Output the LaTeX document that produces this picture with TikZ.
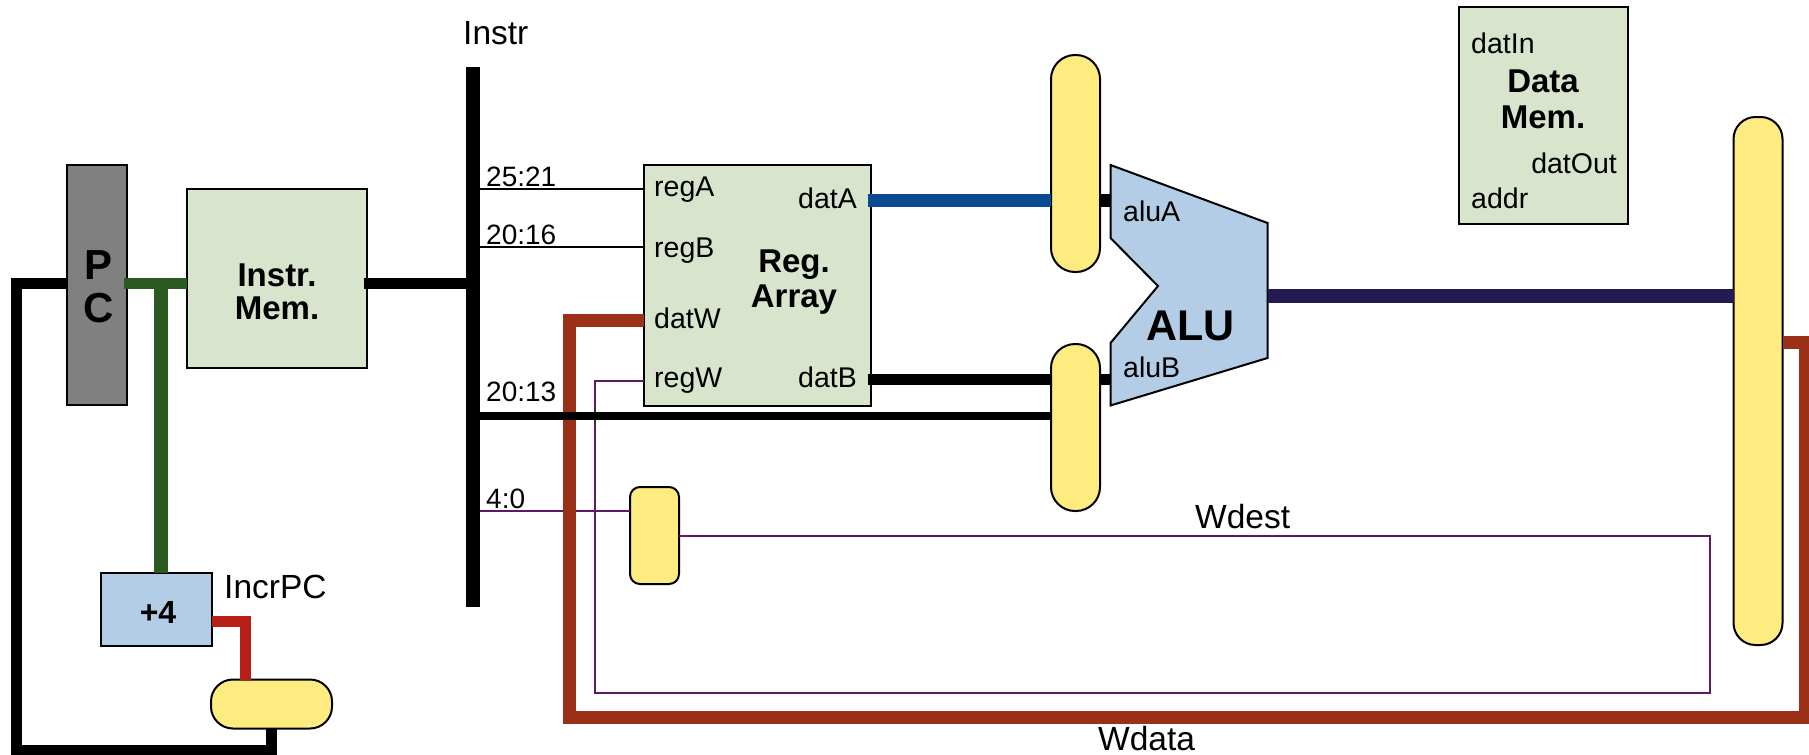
\documentclass[tikz,border=0pt]{standalone}
\usepackage{fontspec}
\setmainfont{Liberation Sans}
\definecolor{memgreen}{HTML}{D8E4CC}
\definecolor{alublue}{HTML}{B3CDE6}
\definecolor{muxyellow}{HTML}{FFEC80}
\definecolor{pcgray}{HTML}{808080}
\definecolor{wgreen}{HTML}{2A5A20}
\definecolor{wred}{HTML}{B81F18}
\definecolor{wbrown}{HTML}{9A3016}
\definecolor{wblue}{HTML}{0A4A93}
\definecolor{wnavy}{HTML}{241A52}
\definecolor{wpurple}{HTML}{5A1A66}
\begin{document}
\begin{tikzpicture}[x=1pt, y=-1pt, line join=miter,
  unitbox/.style = {draw, line width=2pt, inner sep=0pt, outer sep=0pt, fill=memgreen},
  muxbox/.style = {draw, line width=2pt, inner sep=0pt, outer sep=0pt, fill=muxyellow, rounded corners=#1},
  portlbl/.style = {inner sep=0pt, font=\fontsize{28.5}{28.5}\selectfont},
  siglbl/.style = {inner sep=0pt, font=\fontsize{28}{28}\selectfont},
  namelbl/.style = {inner sep=0pt, font=\fontsize{33.5}{33.5}\selectfont},
  titlelbl/.style = {inner sep=0pt, align=center, font=\fontsize{33}{#1}\selectfont\bfseries},
  thinwire/.style = {line width=2pt},
  buswire/.style = {line width=#1}]
\useasboundingbox (0,0) rectangle (1809,754.5);
\clip (0,0) rectangle (1809,756);

% boxes
\node[unitbox, minimum width=60pt, minimum height=240pt, fill=pcgray] (pc) at (97,285) {};
\node[unitbox, minimum width=180pt, minimum height=179pt] (imem) at (277,278.5) {};
\node[unitbox, minimum width=111pt, minimum height=73pt, fill=alublue] (incr) at (156.5,609) {};
\node[unitbox, minimum width=227pt, minimum height=241pt] (regs) at (757,285.5) {};
\node[unitbox, minimum width=169pt, minimum height=217pt] (dmem) at (1543.5,115.5) {};
\node[inner sep=0pt, outer sep=0pt, fill=black, minimum width=14pt, minimum height=540pt] (instr) at (473,337) {};

% muxes
\node[muxbox=22pt, minimum width=121pt, minimum height=49pt] (muxpc) at (271.5,704) {};
\node[muxbox=10pt, minimum width=49pt, minimum height=97pt] (muxw) at (654.5,535.5) {};
\node[muxbox=24pt, minimum width=49pt, minimum height=217pt] (muxa) at (1075.5,163.5) {};
\node[muxbox=24pt, minimum width=49pt, minimum height=167pt] (muxb) at (1075.5,427.5) {};
\node[muxbox=22pt, minimum width=49pt, minimum height=528pt] (muxr) at (1758,381) {};

% ALU
\draw[line width=2pt, fill=alublue] (1110.5,165) coordinate (alutop) -- (1267.5,223) -- (1267.5,358) coordinate (alubot)
  -- (1110.5,405.5) -- (1110.5,343) -- (1158,286) -- (1110.5,238) -- cycle;

% levels and corners of the wires
\coordinate (ymem) at (0,283);
\coordinate (yrega) at (0,189);
\coordinate (yregb) at (0,247);
\coordinate (ydatw) at (0,320);
\coordinate (yregw) at (0,381);
\coordinate (ydata) at (0,200);
\coordinate (ydatb) at (0,379);
\coordinate (yimm) at (0,416);
\coordinate (ywsel) at (0,511);
\coordinate (ywdest) at (0,536);
\coordinate (ybot) at (0,693);
\coordinate (yalu) at (0,296);
\coordinate (ymuxr) at (0,342);
\coordinate (yloop) at (0,717);
\coordinate (yfb) at (0,750.5);
\coordinate (xfb) at (16.5,0);
\coordinate (xpad) at (161,0);
\coordinate (xred) at (245,0);
\coordinate (xbrown) at (569,0);
\coordinate (xpurple) at (595,0);
\coordinate (xwdest) at (1710,0);
\coordinate (xedge) at (1805.5,0);
\coordinate (yred) at (0,621);

% thin wires
\draw[thinwire] (instr.east |- yrega) -- (regs.west |- yrega);
\draw[thinwire] (instr.east |- yregb) -- (regs.west |- yregb);
\draw[thinwire, wpurple] (instr.east |- ywsel) -- (muxw.west |- ywsel);
\draw[thinwire, wpurple] (muxw.east |- ywdest) -- (xwdest |- ywdest) -- (xwdest |- ybot) -- (xpurple |- ybot) -- (xpurple |- yregw) -- (regs.west |- yregw);

% thick wires
\draw[buswire=13pt, wbrown] (muxr.east |- ymuxr) -- (xedge |- ymuxr) -- (xedge |- yloop) -- (xbrown |- yloop) -- (xbrown |- ydatw) -- (regs.west |- ydatw);
\draw[buswire=8pt] (instr.east |- yimm) -- (muxb.west |- yimm);
\draw[buswire=11pt, shorten <=-3pt] (imem.east |- ymem) -- (instr.west |- ymem);
\draw[buswire=11pt, wgreen, shorten <=-3pt] (pc.east |- ymem) -- (imem.west |- ymem);
\draw[buswire=14pt, wgreen] (xpad |- ymem) -- (xpad |- incr.north);
\draw[buswire=11pt] (pc.west |- ymem) -- (xfb |- ymem) -- (xfb |- yfb) -- (muxpc.south |- yfb) -- (muxpc.south);
\draw[buswire=11pt, wred] (incr.east |- yred) -- (xred |- yred) -- (xred |- muxpc.north);
\draw[buswire=13pt, wblue, shorten <=-3pt] (regs.east |- ydata) -- (muxa.west |- ydata);
\draw[buswire=13pt] (muxa.east |- ydata) -- (alutop |- ydata);
\draw[buswire=11pt, shorten <=-3pt] (regs.east |- ydatb) -- (muxb.west |- ydatb);
\draw[buswire=11pt] (muxb.east |- ydatb) -- (alutop |- ydatb);
\draw[buswire=14pt, wnavy] (alubot |- yalu) -- (muxr.west |- yalu);

% labels
\node[inner sep=0pt, align=center, font=\fontsize{42}{43}\selectfont\bfseries] (pclbl) at (99,287) {P\\C};
\node[titlelbl=33pt] (imemlbl) at (277,292) {Instr.\\Mem.};
\node[titlelbl=35pt] (regslbl) at (794,282) {Reg.\\Array};
\node[titlelbl=36pt] (dmemlbl) at (1543,99) {Data\\Mem.};
\node[inner sep=0pt, font=\fontsize{32}{32}\selectfont\bfseries, anchor=base] (incrlbl) at (158,623) {+4};
\node[inner sep=0pt, font=\fontsize{43}{43}\selectfont\bfseries, anchor=base] (alulbl) at (1190.5,340) {ALU};
\node[namelbl, anchor=base west] (instrlbl) at (463,45) {Instr};
\node[namelbl, anchor=base west] (incrpc) at (224,598.5) {IncrPC};
\node[namelbl, anchor=base west] (wdest) at (1195,528) {Wdest};
\node[namelbl, anchor=base west] (wdata) at (1098,750) {Wdata};
\node[siglbl, anchor=base west] (s2521) at (486,186) {25:21};
\node[siglbl, anchor=base west] (s2016) at (486,244) {20:16};
\node[siglbl, anchor=base west] (s2013) at (486,401) {20:13};
\node[siglbl, anchor=base west] (s40) at (486,508) {4:0};
\node[portlbl, anchor=base west] (regalbl) at (654,196) {regA};
\node[portlbl, anchor=base west] (regblbl) at (654,257) {regB};
\node[portlbl, anchor=base west] (datwlbl) at (654,328) {datW};
\node[portlbl, anchor=base west] (regwlbl) at (654,387) {regW};
\node[portlbl, anchor=base east] (datalbl) at (857,208) {datA};
\node[portlbl, anchor=base east] (datblbl) at (857,387) {datB};
\node[portlbl, anchor=base west] (alualbl) at (1123,221) {aluA};
\node[portlbl, anchor=base west] (alublbl) at (1123,377) {aluB};
\node[portlbl, anchor=base west] (datinlbl) at (1471,53) {datIn};
\node[portlbl, anchor=base east] (datoutlbl) at (1617,173) {datOut};
\node[portlbl, anchor=base west] (addrlbl) at (1471,208) {addr};
\end{tikzpicture}
\end{document}
